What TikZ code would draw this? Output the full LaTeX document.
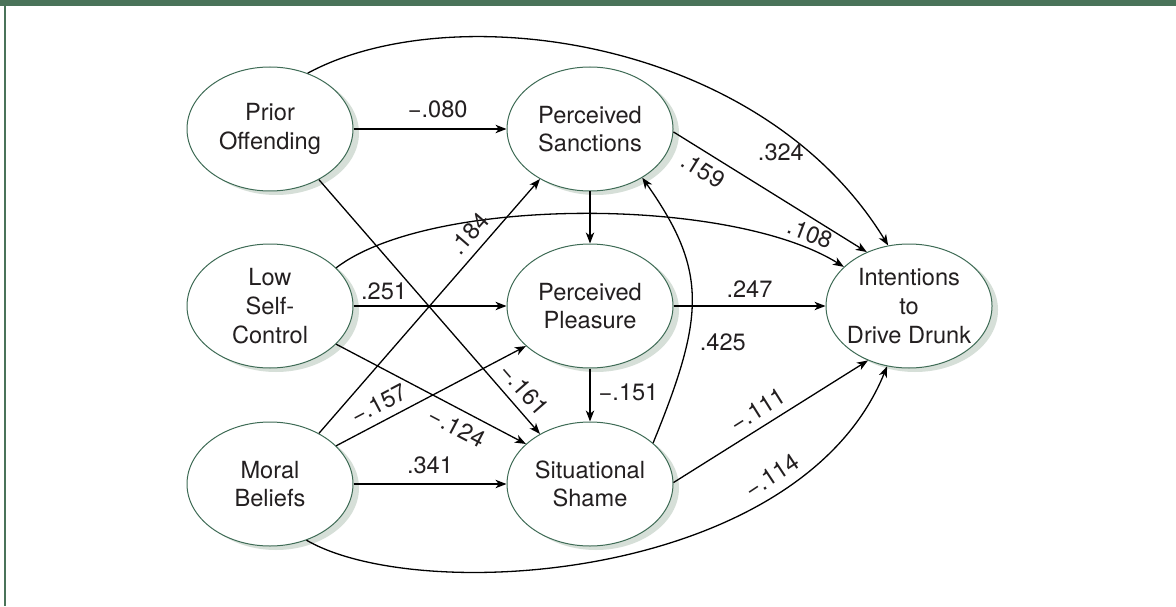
\documentclass[tikz,border=0pt]{standalone}
\usepackage{fontspec}
\setmainfont{TeX Gyre Heros}
\usetikzlibrary{shapes.geometric,shadows,arrows.meta}
\definecolor{framegreen}{HTML}{4A7359}
\definecolor{ovalgreen}{HTML}{3E6B55}
\definecolor{shadegreen}{HTML}{D6DFD8}
\definecolor{textgray}{HTML}{231F20}

\begin{document}
\begin{tikzpicture}[x=0.5pt,y=0.5pt,>={Stealth[length=5.5pt,width=4.2pt,inset=1.6pt]},
  var/.style={ellipse,draw=ovalgreen,line width=0.5pt,fill=white,
    minimum width=83pt,minimum height=62pt,inner sep=0pt,align=center,
    text=textgray,font=\fontsize{11.8}{14.35}\selectfont,
    drop shadow={shadow xshift=3pt,shadow yshift=-2pt,fill=shadegreen,opacity=1}},
  arr/.style={->,line width=0.65pt},
  coef/.style={font=\fontsize{11.8}{13}\selectfont,text=textgray,inner sep=1pt}]
\useasboundingbox (0,0) rectangle (1176,606);
\fill[framegreen] (0,599.5) rectangle (1176,606);
\draw[framegreen,line width=0.7pt] (5,600) -- (5,0);

\node[var] (po) at (270,477) {Prior\\Offending};
\node[var] (ps) at (590,477) {Perceived\\Sanctions};
\node[var] (lsc) at (270,300) {Low\\Self-\\Control};
\node[var] (pp) at (590,300) {Perceived\\Pleasure};
\node[var] (mb) at (270,122) {Moral\\Beliefs};
\node[var] (ss) at (590,122) {Situational\\Shame};
\node[var,inner xsep=-2pt] (idd) at (909,300) {Intentions\\to\\Drive Drunk};

\draw[arr] (po) -- node[coef,above=4pt,pos=.55] {−.080} (ps);
\draw[arr] (po.56) .. controls (450,610) and (760,570) .. node[coef,pos=.78,below=5pt] {.324} (idd.109);
\draw[arr] (ps.-2) -- node[coef,sloped,below=3pt,pos=.2] {.159} (idd.128);
\draw[arr] (ps) -- (pp);
\draw[arr] (lsc.30) .. controls (430,410) and (730,410) .. node[coef,sloped,above=2pt,pos=.9] {.108} (idd.149);
\draw[arr] (lsc) -- node[coef,above=1.5pt,pos=.2] {.251} (pp);
\draw[arr] (lsc.-30) -- node[coef,sloped,below=3pt,pos=.68] {−.124} (ss.148);
\draw[arr] (po.-46) -- node[coef,sloped,above=3pt,pos=.87] {−.161} (ss.135);
\draw[arr] (mb.46) -- node[coef,sloped,above=3pt,pos=.74] {.184} (ps.-135);
\draw[arr] (mb.30) -- node[coef,sloped,above=3pt,pos=.27] {−.157} (pp.-148);
\draw[arr] (mb) -- node[coef,above=4pt] {.341} (ss);
\draw[arr] (mb.-57) .. controls (420,0) and (800,25) .. node[coef,sloped,above=3pt,pos=.76] {−.114} (idd.-110);
\draw[arr] (ss.1) -- node[coef,sloped,above=3pt,pos=.48] {−.111} (idd.-127);
\draw[arr] (ss.33) .. controls (705,290) and (708,335) .. node[coef,pos=.32,right=5pt] {.425} (ps.-43);
\draw[arr] (pp) -- node[coef,above=3pt] {.247} (idd);
\draw[arr] (pp) -- node[coef,right=3pt,pos=.45] {−.151} (ss);
\end{tikzpicture}
\end{document}
